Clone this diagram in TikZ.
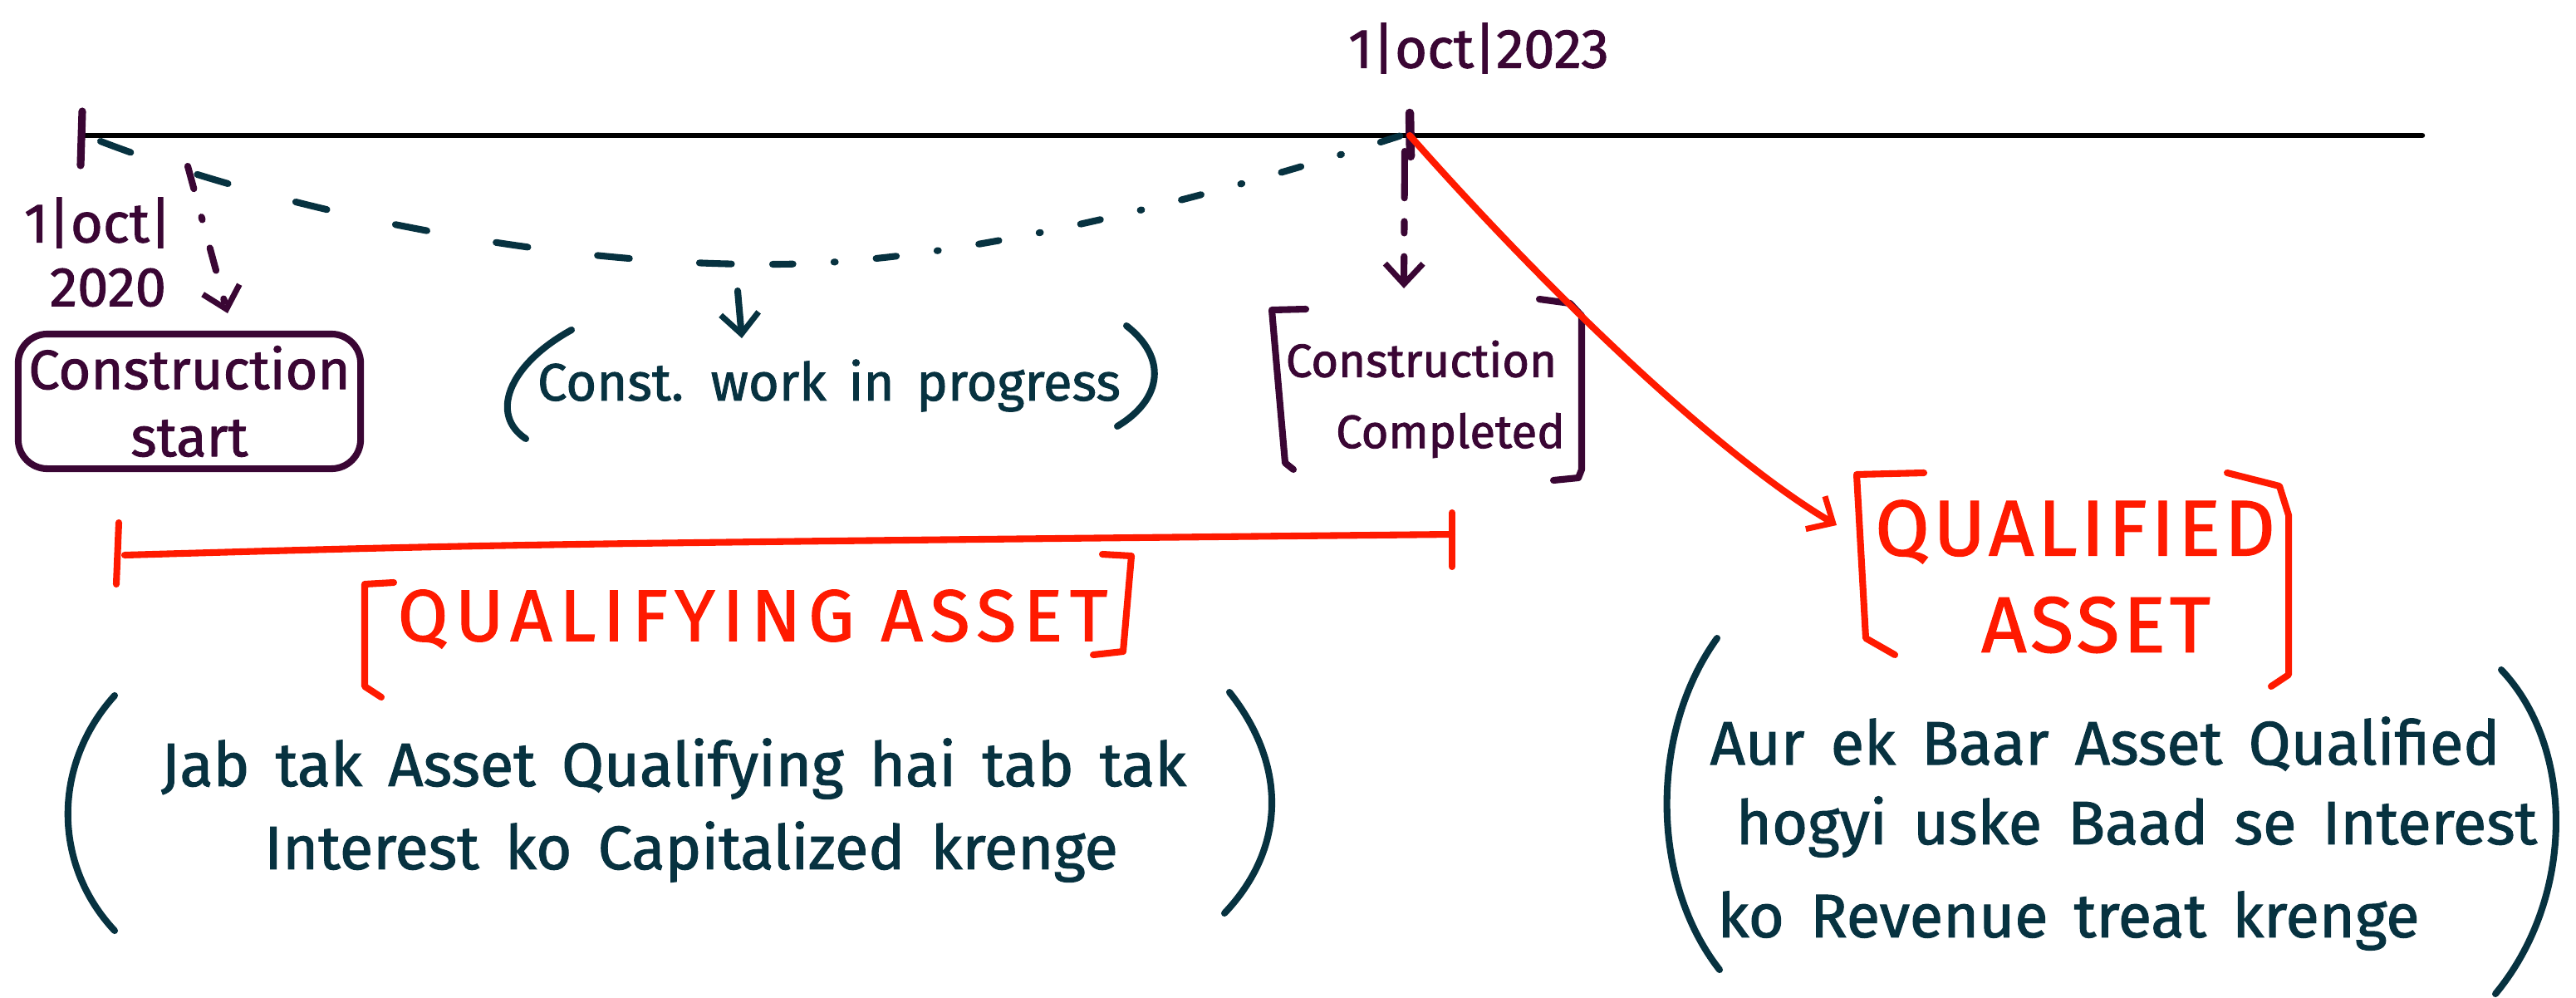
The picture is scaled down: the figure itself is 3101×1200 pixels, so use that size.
\documentclass[tikz,border=0pt]{standalone}
\usepackage{fontspec}
\setmainfont{Fira Sans}[FakeBold=1.4]
\newfontfamily\notefont{Fira Sans}[FakeBold=1.4, WordSpace=1.6]
\newfontfamily\capsfont{Fira Sans}[FakeBold=1.4, LetterSpace=10]
\newfontfamily\bigcapsfont{Fira Sans}[FakeBold=1.4, LetterSpace=5]
\usetikzlibrary{arrows.meta,calc}

\definecolor{plum}{HTML}{3A0634}
\definecolor{ink}{HTML}{073240}
\definecolor{marker}{HTML}{FF1A00}

\tikzset{
  pen/.style={line width=2.3pt, line cap=round, line join=round},
  thinpen/.style={line width=1.8pt, line cap=round},
  barb/.style={-{Straight Barb[length=7pt,width=13pt,line width=2pt]}},
  lbl/.style={inner sep=0pt, font=\fontsize{19}{22}\selectfont},
  note/.style={inner sep=0pt, text=ink, font=\notefont\fontsize{21}{25}\selectfont},
  caps/.style={inner sep=0pt, text=marker, font=\capsfont\fontsize{25}{30}\selectfont},
  bigcaps/.style={inner sep=0pt, text=marker, font=\bigcapsfont\fontsize{27}{32}\selectfont},
}

\begin{document}
\begin{tikzpicture}[x=0.01cm, y=-0.01cm]
\useasboundingbox (0,0) rectangle (3101,1200);

% ---- time line and its two marks
\coordinate (tlA) at (99,163);
\coordinate (tlB) at (2916,163);
\coordinate (t1) at (1697,163);
\draw[thinpen, black] (tlA) -- (tlB);
\draw[pen, plum, line width=2.6pt] (99,134) -- (97,199);
\draw[pen, plum, line width=3pt] (1697,136) -- (1698,188);

% ---- dates
\node[lbl, text=plum] (d0a) at (118,268) {1|oct|};
\node[lbl, text=plum] (d0b) at (130,346) {2020};
\node[lbl, text=plum] (d1) at (1780,58) {1|oct|2023};

% ---- start of construction
\node[pen, draw=plum, text=plum, rounded corners=10pt, minimum width=4.12cm,
      minimum height=1.62cm, align=center, inner sep=0pt,
      font=\fontsize{19}{21}\selectfont] (start) at (228,483) {Construction\\[2pt]start};
\coordinate (s0) at (226,200);
\coordinate (sIn) at (274,377);
\draw[pen, plum, barb, dash pattern=on 8pt off 10pt on 1pt off 10pt] (s0) -- (sIn);

% ---- work in progress
\node[note, font=\notefont\fontsize{18}{22}\selectfont] (cwip) at (998,464) {Const. work in progress};
\draw[pen, ink] (688,397) .. controls (610,440) and (590,500) .. (633,528);
\draw[pen, ink] (1356,392) .. controls (1405,430) and (1400,480) .. (1345,513);

% dashed span from start to completion
\coordinate (cLow) at (930,318);
\draw[pen, ink, dash pattern=on 11pt off 24pt] (121,170) .. controls (330,250) and (650,320) .. (cLow);
\draw[pen, ink, dash pattern=on 7pt off 14pt on 0.5pt off 14pt] (cLow) .. controls (1150,318) and (1450,240) .. (1690,162);
\coordinate (wA) at (888,350);
\coordinate (wB) at (893,407);
\draw[pen, ink, barb] (wA) -- (wB);

% ---- completion
\node[inner sep=0pt, text=plum, font=\fontsize{16}{19}\selectfont] (done) at (1711,432) {Construction};
\node[inner sep=0pt, text=plum, font=\fontsize{16}{19}\selectfont] (done2) at (1746,524) {Completed};
\draw[pen, plum] (1572,372) -- (1531,373) -- (1547,557) -- (1557,565);
\draw[pen, plum] (1853,360) -- (1890,365) -- (1904,380) -- (1904,565) -- (1900,575) -- (1870,578);
\coordinate (c0) at (1691,182);
\coordinate (cIn) at (1690,347);
\draw[pen, plum, barb, dash pattern=on 16pt off 8pt on 4pt off 8pt] (c0) -- (cIn);

% ---- qualifying period
\draw[pen, marker] (143,629) -- (140,703);
\draw[pen, marker] (1748,617) -- (1748,682);
\draw[pen, marker] (150,668) .. controls (600,655) .. (1748,643);
\node[caps] (qing) at (906,745) {QUALIFYING ASSET};
\draw[pen, marker] (474,701) -- (439,703) -- (439,826) -- (459,839);
\draw[pen, marker] (1327,667) -- (1362,669) -- (1352,784) -- (1316,788);

\node[note] (qa1) at (811,925) {Jab tak Asset Qualifying hai tab tak};
\node[note] (qa2) at (832,1025) {Interest ko Capitalized krenge};
\draw[pen, ink] (138,837) .. controls (63,920) and (63,1040) .. (138,1120);
\draw[pen, ink] (1480,833) .. controls (1549,920) and (1549,1020) .. (1474,1099);

% ---- qualified asset
\coordinate (qIn) at (2211,632);
\draw[pen, marker, barb] (t1) .. controls (1880,370) and (2080,555) .. (qIn);
\node[bigcaps] (qd1) at (2498,640) {QUALIFIED};
\node[bigcaps] (qd2) at (2523,752) {ASSET};
\draw[pen, marker] (2316,569) -- (2235,571) -- (2246,768) -- (2281,788);
\draw[pen, marker] (2681,569) -- (2744,585) -- (2755,620) -- (2755,812) -- (2734,826);

\node[note] (qe1) at (2534,895) {Aur ek Baar Asset Qualified};
\node[note] (qe2) at (2572,995) {hogyi uske Baad se Interest};
\node[note] (qe3) at (2490,1108) {ko Revenue treat krenge};
\draw[pen, ink] (2067,768) .. controls (1986,880) and (1986,1060) .. (2070,1167);
\draw[pen, ink] (3011,806) .. controls (3100,900) and (3100,1080) .. (3004,1196);
\end{tikzpicture}
\end{document}
